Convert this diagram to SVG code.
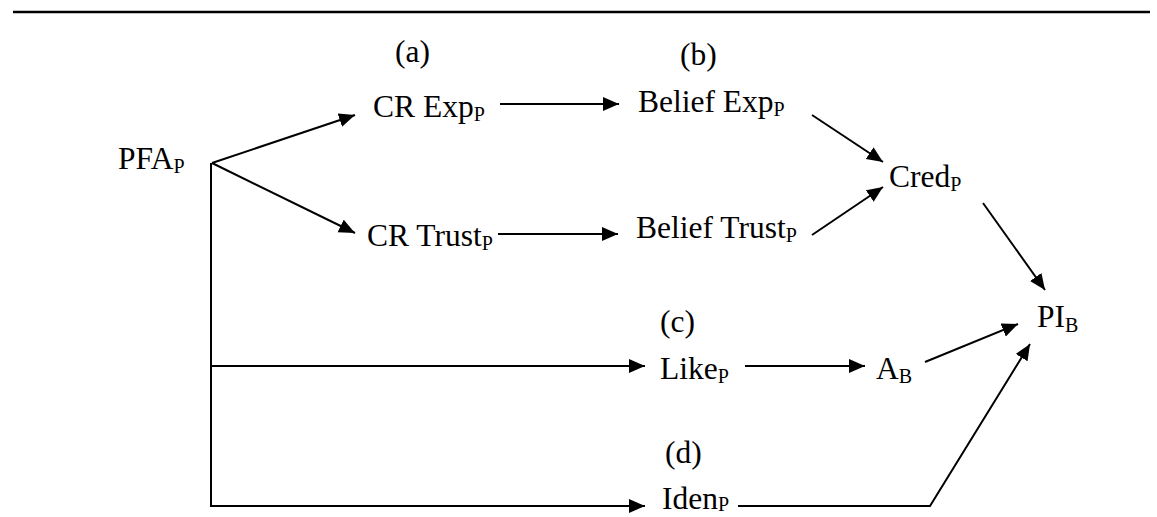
<svg xmlns="http://www.w3.org/2000/svg" width="1157" height="517" viewBox="0 0 1157 517">
<style>
  text { font-family: "Liberation Serif", "Times New Roman", serif; font-size: 31.5px; fill: #000; }
  .sub { font-size: 20px; }
  .conn { stroke: #000; stroke-width: 2; fill: none; }
</style>
<defs>
  <marker id="arrow" markerUnits="userSpaceOnUse" markerWidth="17" markerHeight="15" refX="16" refY="7" orient="auto">
    <path d="M0,0 L16,7 L0,14 z" fill="#000"/>
  </marker>
</defs>
<rect width="1157" height="517" fill="#fff"/>
<line x1="13" y1="12" x2="1150" y2="12" stroke="#000" stroke-width="2.5"/>

<g id="label-a"><text x="395" y="62">(a)</text></g>
<g id="label-b"><text x="680" y="65">(b)</text></g>
<g id="label-c"><text x="660" y="332">(c)</text></g>
<g id="label-d"><text x="665" y="463">(d)</text></g>

<g id="PFA"><text x="118" y="169">PFA<tspan class="sub" dy="4">P</tspan></text></g>
<g id="CRExp"><text x="373" y="117">CR Exp<tspan class="sub" dy="4">P</tspan></text></g>
<g id="BeliefExp"><text x="638" y="112">Belief Exp<tspan class="sub" dy="4">P</tspan></text></g>
<g id="Cred"><text x="889" y="187">Cred<tspan class="sub" dy="4">P</tspan></text></g>
<g id="CRTrust"><text x="367" y="246">CR Trust<tspan class="sub" dy="4">P</tspan></text></g>
<g id="BeliefTrust"><text x="636" y="238">Belief Trust<tspan class="sub" dy="4">P</tspan></text></g>
<g id="PI"><text x="1037" y="327">PI<tspan class="sub" dy="5">B</tspan></text></g>
<g id="Like"><text x="660" y="379">Like<tspan class="sub" dy="4">P</tspan></text></g>
<g id="AB"><text x="876" y="379">A<tspan class="sub" dy="4">B</tspan></text></g>
<g id="Iden"><text x="662" y="509">Iden<tspan class="sub" dy="2">P</tspan></text></g>

<g id="connectors" class="conn">
  <line x1="212" y1="163" x2="355" y2="115" marker-end="url(#arrow)"/>
  <line x1="212" y1="163" x2="355" y2="233" marker-end="url(#arrow)"/>
  <line x1="211" y1="163" x2="211" y2="507"/>
  <line x1="211" y1="366" x2="645" y2="366" marker-end="url(#arrow)"/>
  <line x1="210" y1="506" x2="645" y2="506" marker-end="url(#arrow)"/>
  <line x1="500" y1="104" x2="619" y2="104" marker-end="url(#arrow)"/>
  <line x1="498" y1="234" x2="618" y2="234" marker-end="url(#arrow)"/>
  <line x1="812" y1="115" x2="883" y2="162" marker-end="url(#arrow)"/>
  <line x1="812" y1="235" x2="883" y2="187" marker-end="url(#arrow)"/>
  <line x1="983" y1="203" x2="1045" y2="290" marker-end="url(#arrow)"/>
  <line x1="745" y1="366" x2="865" y2="366" marker-end="url(#arrow)"/>
  <line x1="925" y1="362" x2="1018" y2="324" marker-end="url(#arrow)"/>
  <polyline points="738,506 930,506 1030,344" marker-end="url(#arrow)"/>
</g>
</svg>
